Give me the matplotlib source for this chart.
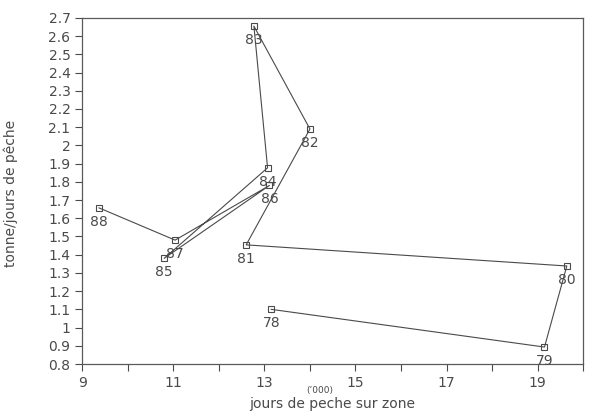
import numpy as np
import matplotlib as mpl
mpl.use("Agg")
import matplotlib.pyplot as plt
from matplotlib.ticker import MultipleLocator, FormatStrFormatter, FuncFormatter

# years (labels) and values
years = ["78", "79", "80", "81", "82", "83", "84", "85", "86", "87", "88"]
jours = [13.15, 19.15, 19.64, 12.60, 14.00, 12.77, 13.07, 10.80, 13.11, 11.04, 9.37]   # ('000)
cpue = [1.10, 0.893, 1.338, 1.454, 2.09, 2.655, 1.877, 1.38, 1.78, 1.48, 1.657]        # tonne/jour

ink = "#4a4a4a"
plt.rcParams["font.family"] = ["DejaVu Sans"]
plt.rcParams["font.size"] = 10

fig = plt.figure(figsize=(6.0, 4.16), dpi=100)
ax = fig.add_axes([0.137, 0.125, 0.835, 0.832])

ax.plot(jours, cpue, color=ink, linewidth=0.8, marker="s", markersize=5,
        markerfacecolor="none", markeredgecolor=ink, markeredgewidth=0.8)

for lab, x, y in zip(years, jours, cpue):
    ax.annotate(lab, (x, y), xytext=(0, -5), textcoords="offset points",
                ha="center", va="top", color=ink, fontsize=10)

ax.set_xlim(9, 20)
ax.set_ylim(0.8, 2.7)
ax.xaxis.set_major_locator(MultipleLocator(1))
ax.xaxis.set_major_formatter(FuncFormatter(lambda v, p: "%d" % v if int(round(v)) % 2 == 1 else ""))
ax.yaxis.set_major_locator(MultipleLocator(0.1))
ax.yaxis.set_major_formatter(FuncFormatter(lambda v, p: "%g" % round(v, 1)))

ax.tick_params(direction="out", length=5, width=0.8, colors=ink, labelcolor=ink, labelsize=10)
for s in ax.spines.values():
    s.set_color("#5a5a5a")
    s.set_linewidth(0.9)

fig.text(0.533, 0.061, "(\u2019000)", ha="center", va="center", fontsize=6.5, color=ink)
fig.text(0.553, 0.028, "jours de peche sur zone", ha="center", va="center", fontsize=10, color=ink)
fig.text(0.018, 0.535, "tonne/jours de p\u00eache", rotation=90, ha="center", va="center",
         fontsize=10, color=ink)

fig.savefig("out.png", dpi=100)
